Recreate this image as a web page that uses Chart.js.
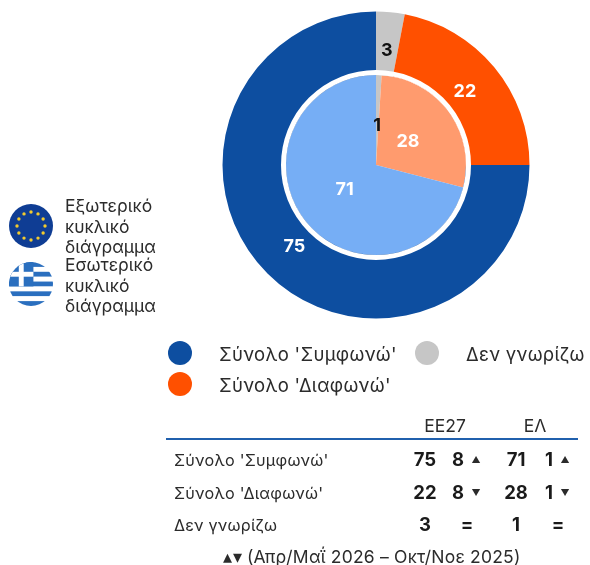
<!DOCTYPE html>
<html lang="el"><head><meta charset="utf-8">
<script src="https://cdn.jsdelivr.net/npm/chart.js@4"></script>
<style>
html,body{margin:0;padding:0;background:#fff}
body{width:590px;height:565px;position:relative;overflow:hidden;font-family:Inter,"Noto Sans",sans-serif;color:#2b2b2b}
canvas{position:absolute;left:0;top:0}
.t{position:absolute;white-space:nowrap;line-height:1;transform:translate(-50%,-50%)}
.l{transform:translate(0,-50%)}
.b{font-weight:700;color:#1a1a1a}
.dot{position:absolute;width:24px;height:24px;border-radius:50%;transform:translate(-50%,-50%)}
.rule{position:absolute;left:166px;top:438px;width:412px;height:2px;background:#2060ad}
svg{position:absolute}
</style></head><body>
<canvas id="c" width="590" height="565"></canvas>
<svg id="eu" style="left:9px;top:204px" width="44" height="44" viewBox="0 0 44 44"></svg>
<svg id="gr" style="left:9px;top:262px" width="44" height="44" viewBox="0 0 44 44"></svg>
<div id="ov"></div>
<script>
const categories = ["Δεν γνωρίζω", "Σύνολο 'Διαφωνώ'", "Σύνολο 'Συμφωνώ'"];
const eu27Values = [3, 22, 75];
const greeceValues = [1, 28, 71];
const outerColors = ["#c6c6c6", "#ff5000", "#0d4ea0"];
const innerColors = ["#c6c6c6", "#ff9b6e", "#76aef5"];
const labelColors = ["#111111", "#ffffff", "#ffffff"];
const pieLegend = [["Εξωτερικό", "κυκλικό", "διάγραμμα"], ["Εσωτερικό", "κυκλικό", "διάγραμμα"]];
const tableHead = ["ΕΕ27", "ΕΛ"];
const tableRows = ["Σύνολο 'Συμφωνώ'", "Σύνολο 'Διαφωνώ'", "Δεν γνωρίζω"];
const eu27Table = ["75", "22", "3"];
const eu27Diff = ["8", "8", "="];
const eu27Arrow = ["▲", "▼", ""];
const greeceTable = ["71", "28", "1"];
const greeceDiff = ["1", "1", "="];
const greeceArrow = ["▲", "▼", ""];
const footnote = "▴▾ (Απρ/Μαΐ 2026 – Οκτ/Νοε 2025)";

const FONT = 'Inter,"Noto Sans",sans-serif';
const arcLabels = {
  id: "arcLabels",
  afterDatasetsDraw(chart) {
    const {ctx} = chart;
    const inner = chart.getDatasetMeta(1).data[0];
    ctx.save();
    ctx.beginPath();
    ctx.arc(inner.x, inner.y, inner.outerRadius + 2.5, 0, Math.PI * 2);
    ctx.lineWidth = 5;
    ctx.strokeStyle = "#fff";
    ctx.stroke();
    ctx.font = "700 18px " + FONT;
    ctx.textAlign = "center";
    ctx.textBaseline = "middle";
    [[0, 0.4], [1, 0.44]].forEach(([ds, f]) => {
      chart.getDatasetMeta(ds).data.forEach((a, i) => {
        const ang = (a.startAngle + a.endAngle) / 2;
        const r = a.innerRadius + (a.outerRadius - a.innerRadius) * f;
        ctx.fillStyle = labelColors[i];
        ctx.fillText(chart.data.datasets[ds].data[i], a.x + Math.cos(ang) * r, a.y + Math.sin(ang) * r);
      });
    });
    ctx.restore();
  }
};
new Chart(document.getElementById("c"), {
  type: "doughnut",
  data: {
    labels: categories,
    datasets: [
      {data: eu27Values, backgroundColor: outerColors, borderWidth: 0, weight: 63.5},
      {data: greeceValues, backgroundColor: innerColors, borderWidth: 0, weight: 90}
    ]
  },
  options: {
    responsive: false, animation: false, cutout: 0,
    layout: {padding: {left: 222.5, right: 60.5, top: 11.5, bottom: 246.5}},
    plugins: {legend: {display: false}, tooltip: {enabled: false}}
  },
  plugins: [arcLabels]
});

const ov = document.getElementById("ov");
function put(text, x, y, size, cls, spacing) {
  const d = document.createElement("div");
  d.className = "t " + (cls || "");
  d.textContent = text;
  d.style.left = x + "px"; d.style.top = y + "px"; d.style.fontSize = size + "px";
  if (spacing) d.style.letterSpacing = spacing + "px";
  ov.appendChild(d);
}
function dot(color, x, y) {
  const d = document.createElement("div");
  d.className = "dot"; d.style.background = color; d.style.left = x + "px"; d.style.top = y + "px";
  ov.appendChild(d);
}
pieLegend.forEach((lines, k) => lines.forEach((s, i) => put(s, 65, [206, 265][k] + i * 20.5, 17.5, "l")));
dot(outerColors[2], 180, 353); put(categories[2], 219, 354, 18.5, "l", 0.3);
dot(outerColors[1], 180, 384); put(categories[1], 219, 385, 18.5, "l", 0.3);
dot(outerColors[0], 427, 353); put(categories[0], 466, 354, 18.5, "l", 0.3);
put(tableHead[0], 445, 426, 17.5); put(tableHead[1], 535, 426, 17.5);
const rule = document.createElement("div"); rule.className = "rule"; ov.appendChild(rule);
tableRows.forEach((s, i) => {
  const y = [459, 492, 524][i];
  put(s, 174, y + 1, 16.2, "l", 0.2);
  put(eu27Table[i], 425, y, 18.5, "b");
  put(eu27Diff[i], i === 2 ? 467 : 458, y, 18.5, "b");
  if (eu27Arrow[i]) put(eu27Arrow[i], 476, y, 9);
  put(greeceTable[i], 516, y, 18.5, "b");
  put(greeceDiff[i], i === 2 ? 558 : 549, y, 18.5, "b");
  if (greeceArrow[i]) put(greeceArrow[i], 565, y, 9);
});
put(footnote, 372, 557, 17.5, "", 0.2);

let stars = "";
for (let i = 0; i < 12; i++) {
  const a = i * Math.PI / 6;
  stars += `<circle cx="${22 + 14 * Math.cos(a)}" cy="${22 + 14 * Math.sin(a)}" r="1.7" fill="#f2cb2e"/>`;
}
document.getElementById("eu").innerHTML = `<circle cx="22" cy="22" r="22" fill="#0f3d94"/>` + stars;
let stripes = "";
for (let i = 0; i < 9; i++) stripes += `<rect x="0" y="${i * 44 / 9}" width="44" height="${44 / 9 + .2}" fill="${i % 2 ? '#fff' : '#2a6fbf'}"/>`;
document.getElementById("gr").innerHTML = `<defs><clipPath id="cp"><circle cx="22" cy="22" r="22"/></clipPath></defs><g clip-path="url(#cp)">${stripes}<rect x="0" y="0" width="24.4" height="24.4" fill="#2a6fbf"/><rect x="9.8" y="0" width="4.9" height="24.4" fill="#fff"/><rect x="0" y="9.8" width="24.4" height="4.9" fill="#fff"/></g>`;
</script>
</body></html>
